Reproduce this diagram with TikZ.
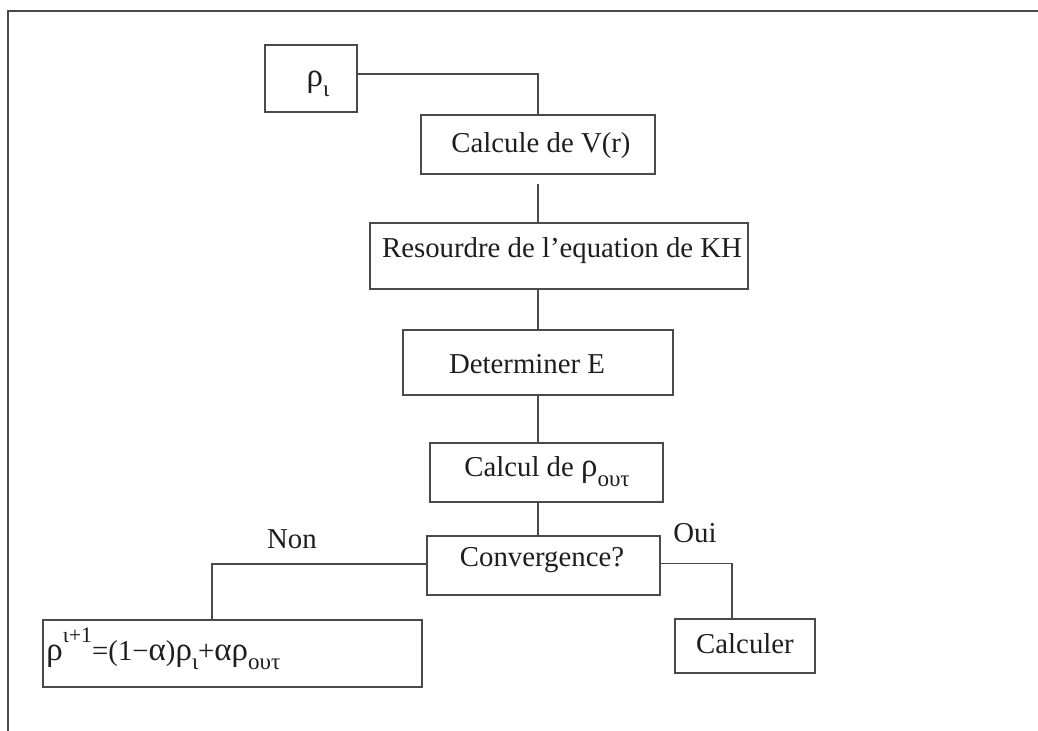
\documentclass[tikz,border=0pt]{standalone}
\usepackage{fontspec}
\setmainfont{Liberation Serif}
\definecolor{linec}{HTML}{4A4A4A}
\definecolor{txtc}{HTML}{1E1E1E}
\newcommand{\gk}[1]{{\fontsize{16.5}{18}\selectfont #1}}
\newcommand{\mysup}[1]{\raisebox{0.62em}{\fontsize{11}{12}\selectfont #1}}
\newcommand{\mysub}[1]{\raisebox{-0.32em}{\fontsize{11.5}{12}\selectfont #1}}
\begin{document}
\begin{tikzpicture}[x=0.5pt,y=-0.5pt,
  frame/.style={draw=linec, line width=1pt},
  box/.style={draw=linec, line width=0.75pt, inner sep=0pt, rectangle},
  conn/.style={draw=linec, line width=0.75pt},
  txt/.style={inner sep=0pt, text=txtc, font=\fontsize{14.4}{16}\selectfont, anchor=base}]
\useasboundingbox (0,0) rectangle (1038,731);
\fill[white] (0,0) rectangle (1038,731);
\draw[frame] (8,731) -- (8,11) -- (1038,11);
% boxes
\node[box, minimum width=46pt,    minimum height=33.5pt] (rho)   at (311,78.5)   {};
\node[box, minimum width=117pt,   minimum height=29.5pt] (calc)  at (538,144.5)  {};
\node[box, minimum width=189pt,   minimum height=33pt]   (resou) at (559,256)    {};
\node[box, minimum width=135pt,   minimum height=32.5pt] (deter) at (538,362.5)  {};
\node[box, minimum width=116.5pt, minimum height=29.5pt] (cout)  at (546.5,472.5){};
\node[box, minimum width=116.5pt, minimum height=29.5pt] (conv)  at (543.5,565.5){};
\node[box, minimum width=70pt,    minimum height=27pt]   (calr)  at (745,646)    {};
\node[box, minimum width=189.5pt, minimum height=33.5pt] (eq)    at (232.5,653.5){};
% texts
\node[txt] (rho-t)   at (318,87)  {\gk{ρ}\mysub{ι}};
\node[txt] (calc-t)  at (541,153) {Calcule de V(r)};
\node[txt] (resou-t) at (562,258) {Resourdre de l’equation de KH};
\node[txt] (deter-t) at (527,374) {Determiner E};
\node[txt] (cout-t)  at (547,477) {Calcul de \gk{ρ}\mysub{ουτ}};
\node[txt] (conv-t)  at (542,567) {Convergence?};
\node[txt] (calr-t)  at (745,653) {Calculer};
\node[txt, anchor=base west] (eq-t) at (46,660) {\gk{ρ}\mysup{ι+1}=(1−\gk{α})\gk{ρ}\mysub{ι}+\gk{αρ}\mysub{ουτ}};
\node[txt] (non) at (292,548) {Non};
\node[txt] (oui) at (695,543) {Oui};
% connectors
\draw[conn] ([yshift=2.25pt]rho.east) -| (calc.north);
\draw[conn, shorten <=4.5pt] (calc.south) -- (calc.south |- resou.north);
\draw[conn] (calc.south |- resou.south) -- (deter.north);
\draw[conn] (deter.south) -- (deter.south |- cout.north);
\draw[conn] (deter.south |- cout.south) -- (deter.south |- conv.north);
\coordinate (nb) at (212,0);
\coordinate (ob) at (732,0);
\draw[conn] ([yshift=0.75pt]conv.west) -| (nb |- eq.north);
\draw[conn] ([yshift=1pt]conv.east) -| (ob |- calr.north);
\end{tikzpicture}
\end{document}
